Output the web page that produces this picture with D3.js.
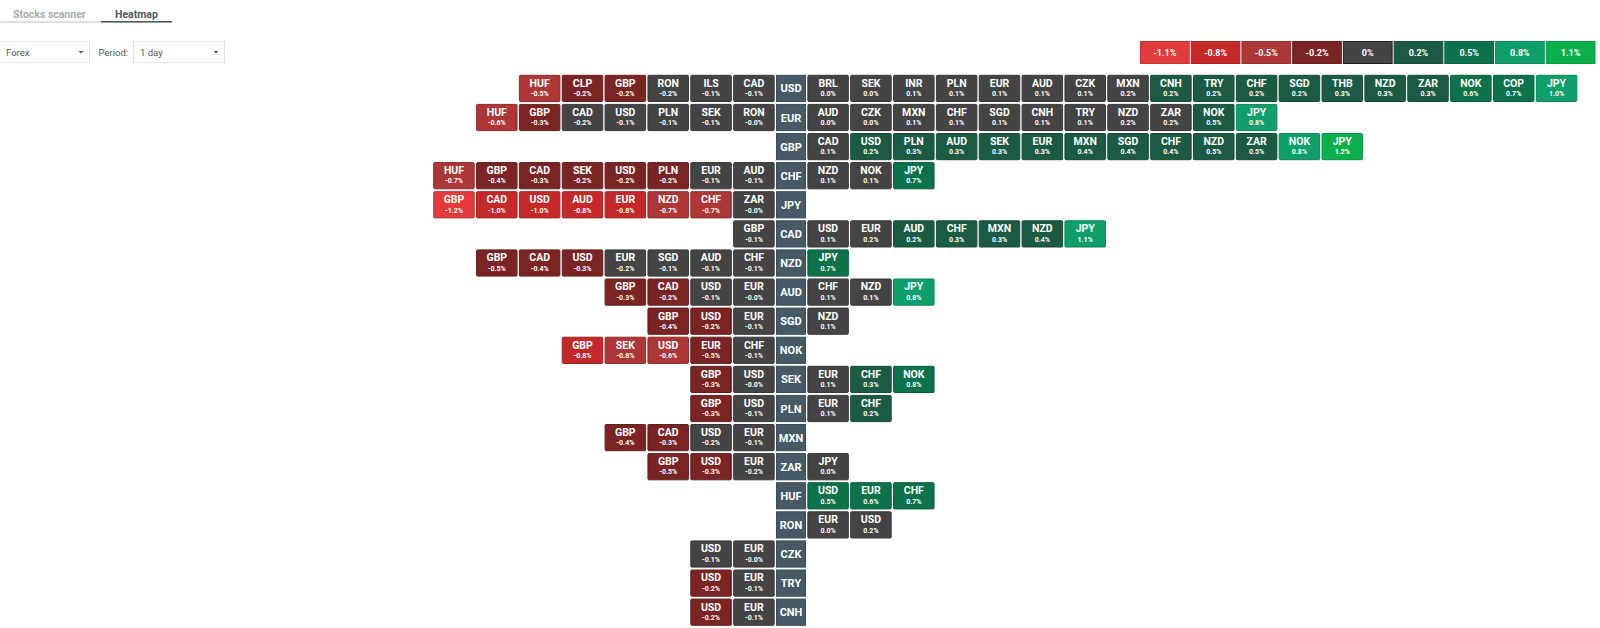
<!DOCTYPE html>
<html>
<head>
<meta charset="utf-8">
<title>Forex heatmap</title>
<script src="https://cdn.jsdelivr.net/npm/d3@7"></script>
<style>
  html, body { margin: 0; padding: 0; background: #ffffff; }
  svg { display: block; font-family: Roboto, "Noto Sans", Arial, sans-serif; }
</style>
</head>
<body>
<svg id="chart" width="1600" height="628"></svg>
<script>
// Base currencies, one row each, top to bottom
const bases = ["USD","EUR","GBP","CHF","JPY","CAD","NZD","AUD","SGD","NOK","SEK","PLN","MXN","ZAR","HUF","RON","CZK","TRY","CNH"];

// Quotes weaker than the base (left of the base label), listed left to right
const leftCodes = [
  ["HUF","CLP","GBP","RON","ILS","CAD"],
  ["HUF","GBP","CAD","USD","PLN","SEK","RON"],
  [],
  ["HUF","GBP","CAD","SEK","USD","PLN","EUR","AUD"],
  ["GBP","CAD","USD","AUD","EUR","NZD","CHF","ZAR"],
  ["GBP"],
  ["GBP","CAD","USD","EUR","SGD","AUD","CHF"],
  ["GBP","CAD","USD","EUR"],
  ["GBP","USD","EUR"],
  ["GBP","SEK","USD","EUR","CHF"],
  ["GBP","USD"],
  ["GBP","USD"],
  ["GBP","CAD","USD","EUR"],
  ["GBP","USD","EUR"],
  [],
  [],
  ["USD","EUR"],
  ["USD","EUR"],
  ["USD","EUR"]
];
const leftValues = [
  [-0.52,-0.24,-0.22,-0.17,-0.09,-0.08],
  [-0.61,-0.27,-0.18,-0.11,-0.09,-0.07,-0.03],
  [],
  [-0.68,-0.38,-0.29,-0.23,-0.21,-0.21,-0.10,-0.06],
  [-1.19,-1.02,-0.98,-0.82,-0.81,-0.72,-0.68,-0.03],
  [-0.11],
  [-0.47,-0.38,-0.27,-0.18,-0.12,-0.09,-0.08],
  [-0.31,-0.23,-0.08,-0.03],
  [-0.39,-0.21,-0.09],
  [-0.83,-0.78,-0.61,-0.48,-0.08],
  [-0.29,-0.03],
  [-0.29,-0.11],
  [-0.38,-0.31,-0.18,-0.09],
  [-0.47,-0.32,-0.17],
  [],
  [],
  [-0.11,-0.03],
  [-0.22,-0.09],
  [-0.21,-0.12]
];

// Quotes stronger than the base (right of the base label), listed left to right
const rightCodes = [
  ["BRL","SEK","INR","PLN","EUR","AUD","CZK","MXN","CNH","TRY","CHF","SGD","THB","NZD","ZAR","NOK","COP","JPY"],
  ["AUD","CZK","MXN","CHF","SGD","CNH","TRY","NZD","ZAR","NOK","JPY"],
  ["CAD","USD","PLN","AUD","SEK","EUR","MXN","SGD","CHF","NZD","ZAR","NOK","JPY"],
  ["NZD","NOK","JPY"],
  [],
  ["USD","EUR","AUD","CHF","MXN","NZD","JPY"],
  ["JPY"],
  ["CHF","NZD","JPY"],
  ["NZD"],
  [],
  ["EUR","CHF","NOK"],
  ["EUR","CHF"],
  [],
  ["JPY"],
  ["USD","EUR","CHF"],
  ["EUR","USD"],
  [],
  [],
  []
];
const rightValues = [
  [0.02,0.04,0.08,0.10,0.11,0.12,0.13,0.17,0.21,0.21,0.22,0.23,0.26,0.28,0.31,0.61,0.68,1.02],
  [0.01,0.04,0.06,0.08,0.10,0.12,0.14,0.16,0.18,0.47,0.83],
  [0.11,0.21,0.27,0.28,0.30,0.32,0.36,0.38,0.41,0.46,0.48,0.82,1.18],
  [0.08,0.13,0.70],
  [],
  [0.09,0.18,0.22,0.27,0.31,0.38,1.08],
  [0.70],
  [0.07,0.09,0.82],
  [0.11],
  [],
  [0.09,0.28,0.78],
  [0.07,0.21],
  [],
  [0.02],
  [0.52,0.61,0.68],
  [0.01,0.17],
  [],
  [],
  []
];

// Colour bands and the legend steps
const legendValues = [-1.1,-0.8,-0.5,-0.2,0,0.2,0.5,0.8,1.1];
const bandBreaks = [-1.1,-0.8,-0.5,-0.2,0.2,0.5,0.8,1.1];
const bandColors = ["#e33b3b","#c52828","#ad3636","#7a2424","#444444","#1b5b43","#0c7249","#0f9f6b","#0bb04d"];

const labelFill = "#455a64";

const svg = d3.select("#chart");

// ---------- page header: tabs and selectors ----------
const header = svg.append("g");
header.append("text").attr("x", 13).attr("y", 18)
  .attr("font-size", 10.5).attr("font-weight", 700).attr("fill", "#a7adb1")
  .text("Stocks scanner");
header.append("text").attr("x", 115).attr("y", 18)
  .attr("font-size", 10.5).attr("font-weight", 700).attr("fill", "#4b5a62")
  .text("Heatmap");
header.append("rect").attr("x", 0).attr("y", 21.5).attr("width", 101).attr("height", 1)
  .attr("fill", "#b8c0c4");
header.append("rect").attr("x", 101).attr("y", 21).attr("width", 71).attr("height", 1.6)
  .attr("fill", "#4b5a62");

function dropdown(x, w, label) {
  const g = header.append("g");
  g.append("rect").attr("x", x + 0.5).attr("y", 41.5).attr("width", w).attr("height", 21)
    .attr("fill", "#fff").attr("stroke", "#e4e4e4");
  g.append("text").attr("x", x + 7).attr("y", 55.5)
    .attr("font-size", 9.5).attr("fill", "#555").text(label);
  const ax = x + w - 8, ay = 51;
  g.append("path").attr("d", `M${ax - 2.5},${ay} L${ax + 2.5},${ay} L${ax},${ay + 2.6} Z`)
    .attr("fill", "#555");
}
dropdown(-1, 90, "Forex");
header.append("text").attr("x", 98.5).attr("y", 55.5)
  .attr("font-size", 9.5).attr("fill", "#555").text("Period:");
dropdown(133, 91, "1 day");

// ---------- legend ----------
const legendX = d3.scaleBand().domain(legendValues.map(String))
  .range([1140, 1595.5]).paddingInner(0.02).paddingOuter(0);
const legend = svg.append("g");
legendValues.forEach((v, i) => {
  const x = legendX(String(v));
  const fill = bandColors[i];
  legend.append("rect")
    .attr("x", x + 0.5).attr("y", 41.5)
    .attr("width", legendX.bandwidth() - 1).attr("height", 22)
    .attr("fill", fill)
    .attr("stroke", i === 4 ? "#1f1f1f" : d3.color(fill).darker(0.35));
  legend.append("text")
    .attr("x", x + legendX.bandwidth() / 2).attr("y", 53)
    .attr("text-anchor", "middle").attr("dominant-baseline", "central")
    .attr("font-size", 9).attr("font-weight", 700).attr("fill", "#fff")
    .text((v === 0 ? "0" : v.toFixed(1)) + "%");
});

// ---------- heatmap grid ----------
const color = d3.scaleThreshold().domain(bandBreaks).range(bandColors);

const rowStep = 29.1, rowGap = 1.9, top0 = 74.8;
const y = d3.scaleBand().domain(bases)
  .range([top0, top0 + bases.length * rowStep - rowGap])
  .paddingInner(rowGap / rowStep).paddingOuter(0);

// horizontal slot positions: slot 0 is the base label, negative slots to the left
const labelX = 776, labelW = 30, colStep = 42.85, colGap = 1.35;
const slotX = d3.scaleLinear().domain([0, 1]).range([0, colStep]);
const cellW = colStep - colGap;
function cellLeft(slot) {
  if (slot > 0) return labelX + labelW + colGap + slotX(slot - 1);
  return labelX - colGap - cellW + slotX(slot + 1);
}

const grid = svg.append("g");

function drawCell(x, top, w, h, fill, code, value) {
  const g = grid.append("g");
  g.append("rect")
    .attr("x", x + 0.5).attr("y", top + 0.5)
    .attr("width", w - 1).attr("height", h - 1)
    .attr("rx", 1).attr("ry", 1)
    .attr("fill", fill)
    .attr("stroke", d3.color(fill).darker(0.55));
  g.append("text")
    .attr("x", x + w / 2).attr("y", top + 8.4)
    .attr("text-anchor", "middle").attr("dominant-baseline", "central")
    .attr("font-size", 10.5).attr("font-weight", 700).attr("fill", "#fff")
    .text(code);
  g.append("text")
    .attr("x", x + w / 2).attr("y", top + 19.3)
    .attr("text-anchor", "middle").attr("dominant-baseline", "central")
    .attr("font-size", 7).attr("font-weight", 700).attr("fill", "#fff")
    .text(value.toFixed(1) + "%");
}

bases.forEach((base, r) => {
  const top = y(base), h = y.bandwidth();

  // base label
  grid.append("rect")
    .attr("x", labelX + 0.5).attr("y", top + 0.5)
    .attr("width", labelW - 1).attr("height", h - 1)
    .attr("fill", labelFill).attr("stroke", "#3a4c55");
  grid.append("text")
    .attr("x", labelX + labelW / 2).attr("y", top + h / 2 + 0.5)
    .attr("text-anchor", "middle").attr("dominant-baseline", "central")
    .attr("font-size", 11).attr("font-weight", 700).attr("fill", "#fff")
    .text(base);

  const lc = leftCodes[r], lv = leftValues[r];
  lc.forEach((code, i) => {
    const slot = -(lc.length - i);
    drawCell(cellLeft(slot), top, cellW, h, color(lv[i]), code, lv[i]);
  });

  const rc = rightCodes[r], rv = rightValues[r];
  rc.forEach((code, i) => {
    const slot = i + 1;
    drawCell(cellLeft(slot), top, cellW, h, color(rv[i]), code, rv[i]);
  });
});
</script>
</body>
</html>
